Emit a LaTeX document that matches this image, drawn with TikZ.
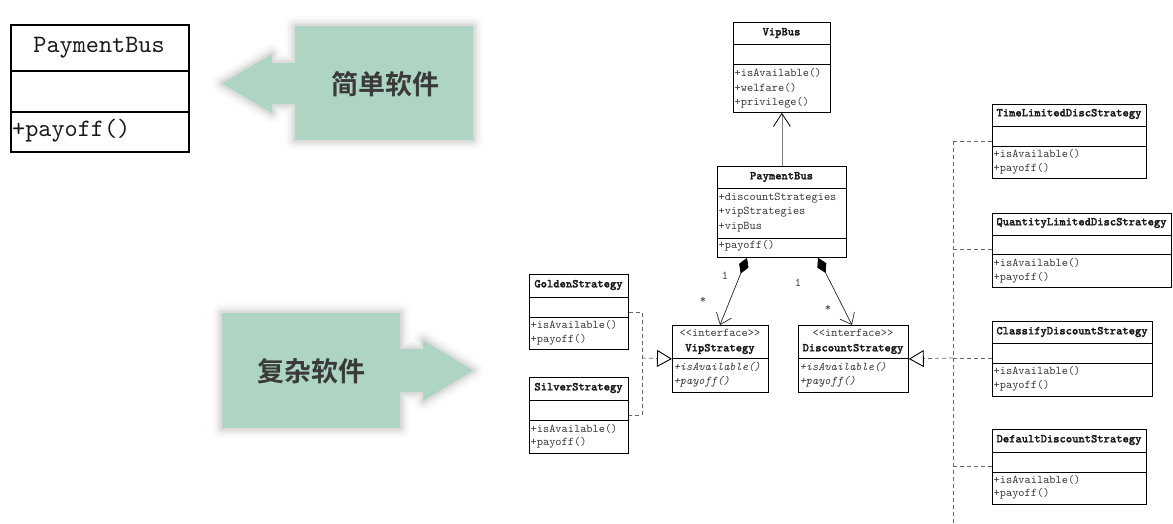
\documentclass[tikz,border=0pt]{standalone}
\usepackage{fontspec}
\setmonofont{lmmono10-regular}[Extension=.otf, BoldFont=lmmonolt10-bold, BoldFeatures={FakeBold=1.6}, ItalicFont=lmmono10-italic]
\newfontfamily\cjk{Noto Sans CJK SC}[BoldFont={Noto Sans CJK SC Bold}]
\usetikzlibrary{arrows.meta,calc}
\definecolor{mint}{RGB}{174,213,196}
\definecolor{cjktext}{RGB}{58,58,58}
\tikzset{
  clsbox/.style={draw=black, line width=0.8pt, inner sep=0pt, anchor=north west},
  divline/.style={draw=black, line width=0.8pt},
  ttl/.style={font=\ttfamily\bfseries\fontsize{12}{13}\selectfont, text=black!90, inner sep=0pt},
  mem/.style={font=\ttfamily\fontsize{11.8}{13}\selectfont, text=black!78, anchor=west, inner sep=0pt},
  imem/.style={font=\ttfamily\itshape\fontsize{11.8}{13}\selectfont, text=black!78, anchor=west, inner sep=0pt},
  mult/.style={font=\ttfamily\fontsize{12}{13}\selectfont, text=black!75, inner sep=0pt},
  real/.style={draw=black!60, dash pattern=on 4pt off 3pt, line width=0.7pt},
  realtip/.style={real, -{Triangle[length=15pt,width=17pt,fill=white,color=black,line width=0.9pt]}},
  comp/.style={draw=black!85, line width=0.7pt, {Diamond[length=17pt,width=10pt,color=black]}-{Straight Barb[length=10pt,width=16pt,color=black!85]}},
  assoc/.style={draw=black!50, line width=0.8pt, -{Straight Barb[length=13pt,width=17pt,color=black]}},
  greenshape/.style={fill=mint, draw=none},
  cjklabel/.style={font=\cjk\bfseries\fontsize{27}{30}\selectfont, text=cjktext, inner sep=0pt},
  bigbox/.style={draw=black, line width=1.8pt},
  bigtxt/.style={font=\ttfamily\fontsize{25}{27}\selectfont, text=black!90, inner sep=0pt}
}
% name, left, top, right, bottom, div1, div2, title y, title
\newcommand\umlcls[9]{%
  \node[clsbox, minimum width={(#4-#2)*1pt}, minimum height={(#5-#3)*1pt}] (#1) at (#2,#3) {};
  \draw[divline] (#2,#6) -- (#4,#6);
  \draw[divline] (#2,#7) -- (#4,#7);
  \node[ttl] (#1-t) at ({(#2+#4)/2},#8) {#9};
}
\newcommand\umlm[4]{\node[mem] (#1) at (#2+1.5,#3) {#4};}
\newcommand\umli[4]{\node[imem] (#1) at (#2+1.5,#3) {#4};}
\begin{document}
\begin{tikzpicture}[x=1pt,y=-1pt]
\useasboundingbox (0,0) rectangle (1173,523);
\fill[white] (0,0) rectangle (1173,523);

% ---- green arrows with soft shadow
\foreach \w/\o in {20/0.02,14/0.03,9/0.04,5/0.05}{
  \draw[line width=\w pt, black, opacity=\o, line join=round]
    (473,26) -- (295,26) -- (295,63) -- (272,63) -- (272,54) -- (222,83.5) -- (272,113) -- (272,104) -- (295,104) -- (295,140) -- (473,140) -- cycle;
  \draw[line width=\w pt, black, opacity=\o, line join=round]
    (222,313) -- (400,313) -- (400,349) -- (423,349) -- (423,340) -- (473,370.5) -- (423,401) -- (423,392) -- (400,392) -- (400,428) -- (222,428) -- cycle;
}
\path[greenshape] (473,26) -- (295,26) -- (295,63) -- (272,63) -- (272,54) -- (222,83.5) -- (272,113) -- (272,104) -- (295,104) -- (295,140) -- (473,140) -- cycle;
\path[greenshape] (222,313) -- (400,313) -- (400,349) -- (423,349) -- (423,340) -- (473,370.5) -- (423,401) -- (423,392) -- (400,392) -- (400,428) -- (222,428) -- cycle;
\node[cjklabel] (simple) at (385,84) {简单软件};
\node[cjklabel] (complex) at (311,371) {复杂软件};

% ---- left simple PaymentBus
\node[bigbox, inner sep=0pt, anchor=north west, minimum width=178pt, minimum height=127pt] (lpb) at (10,24) {};
\draw[bigbox] (10,71) -- (188,71);
\draw[bigbox] (10,112) -- (188,112);
\node[bigtxt] (lpb-t) at (99,48) {PaymentBus};
\node[bigtxt, anchor=west] (lpb-m) at (12,131) {+payoff()};

% ---- VipBus
\umlcls{vb}{733}{22}{830}{112}{44}{64}{33}{VipBus}
\umlm{vb-m1}{733}{73}{+isAvailable()}
\umlm{vb-m2}{733}{88}{+welfare()}
\umlm{vb-m3}{733}{103}{+privilege()}

% ---- PaymentBus
\node[clsbox, minimum width=129pt, minimum height=91pt] (pb) at (717,166) {};
\draw[divline] (717,188) -- (846,188);
\draw[divline] (717,238) -- (846,238);
\node[ttl] (pb-t) at (781.5,177) {PaymentBus};
\umlm{pb-a1}{717}{198}{+discountStrategies}
\umlm{pb-a2}{717}{212}{+vipStrategies}
\umlm{pb-a3}{717}{227}{+vipBus}
\umlm{pb-m1}{717}{246}{+payoff()}

% ---- VipStrategy (interface)
\node[clsbox, minimum width=96pt, minimum height=67pt] (vs) at (672,325) {};
\draw[divline] (672,358) -- (768,358);
\node[mem, anchor=center] (vs-s) at (720,333) {<<interface>>};
\node[ttl] (vs-t) at (720,349) {VipStrategy};
\umli{vs-m1}{672}{367}{+isAvailable()}
\umli{vs-m2}{672}{382}{+payoff()}

% ---- DiscountStrategy (interface)
\node[clsbox, minimum width=110pt, minimum height=67pt] (ds) at (798,325) {};
\draw[divline] (798,358) -- (908,358);
\node[mem, anchor=center] (ds-s) at (853,333) {<<interface>>};
\node[ttl] (ds-t) at (853,349) {DiscountStrategy};
\umli{ds-m1}{798}{367}{+isAvailable()}
\umli{ds-m2}{798}{382}{+payoff()}

% ---- Golden / Silver
\umlcls{gs}{529}{274}{628}{349}{297}{317}{285}{GoldenStrategy}
\umlm{gs-m1}{529}{325}{+isAvailable()}
\umlm{gs-m2}{529}{340}{+payoff()}
\umlcls{ss}{529}{377}{628}{453}{400}{420}{388}{SilverStrategy}
\umlm{ss-m1}{529}{429}{+isAvailable()}
\umlm{ss-m2}{529}{443}{+payoff()}

% ---- right concrete discount strategies
\umlcls{tl}{992}{104}{1146}{178}{126}{146}{114}{TimeLimitedDiscStrategy}
\umlm{tl-m1}{992}{154}{+isAvailable()}
\umlm{tl-m2}{992}{169}{+payoff()}
\umlcls{ql}{992}{213}{1171}{287}{235}{254}{223}{QuantityLimitedDiscStrategy}
\umlm{ql-m1}{992}{263}{+isAvailable()}
\umlm{ql-m2}{992}{278}{+payoff()}
\umlcls{cd}{992}{321}{1152}{396}{343}{363}{332}{ClassifyDiscountStrategy}
\umlm{cd-m1}{992}{371}{+isAvailable()}
\umlm{cd-m2}{992}{386}{+payoff()}
\umlcls{dd}{992}{429}{1146}{504}{452}{472}{440}{DefaultDiscountStrategy}
\umlm{dd-m1}{992}{480}{+isAvailable()}
\umlm{dd-m2}{992}{494}{+payoff()}

% ---- associations
\draw[assoc] (pb.north) -- (vb.south);
\draw[comp] ([xshift=30pt]pb.south west) -- ([xshift=48pt]vs.north west);
\draw[comp] ([xshift=101pt]pb.south west) -- ([xshift=54pt]ds.north west);
\node[mult] (m1a) at (725,276) {1};
\node[mult] (m1b) at (703,300) {*};
\node[mult] (m2a) at (798,283) {1};
\node[mult] (m2b) at (828,308) {*};

% ---- VIP realizations
\coordinate (vg) at (642,312);
\coordinate (vsv) at (642,415);
\coordinate (vj) at (642,358);
\draw[real] (gs.east |- vg) -- (vg) -- (vsv) -- (ss.east |- vsv);
\draw[realtip] (vj) -- (vs.west);

% ---- discount realizations
\coordinate (t1) at (953,141);
\coordinate (t2) at (953,249);
\coordinate (t3) at (953,358);
\coordinate (t4) at (953,466);
\coordinate (tend) at (953,523);
\draw[real] (t1) -- (tend);
\draw[real] (t1) -- (t1 -| tl.west);
\draw[real] (t2) -- (t2 -| ql.west);
\draw[real] (t3) -- (t3 -| cd.west);
\draw[real] (t4) -- (t4 -| dd.west);
\draw[realtip] (t3) -- (ds.east);
\end{tikzpicture}
\end{document}
